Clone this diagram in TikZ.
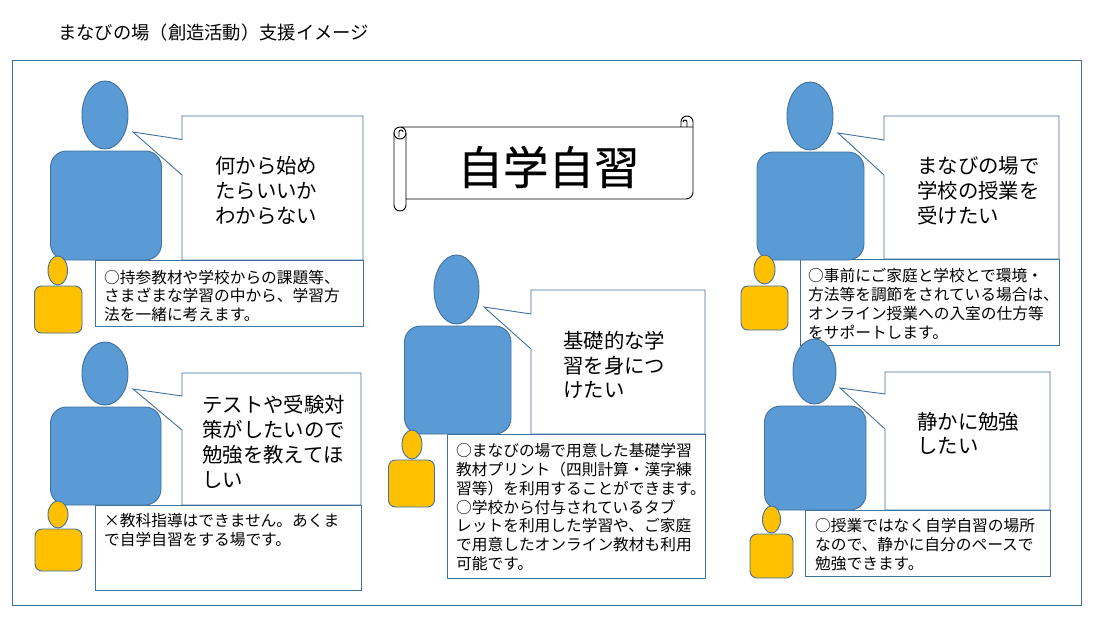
\documentclass[tikz,border=0pt]{standalone}
\usepackage{fontspec}
\setmainfont{Noto Sans CJK JP}
\usetikzlibrary{shapes.geometric}
\definecolor{edgeblue}{HTML}{41719C}
\definecolor{fillblue}{HTML}{5B9BD5}
\definecolor{fillgold}{HTML}{FFC000}
\tikzset{
  base/.style={inner sep=0pt,outer sep=0pt,line width=0.9pt,draw=edgeblue},
  headbig/.style={base,ellipse,fill=fillblue},
  bodybig/.style={base,rectangle,rounded corners=16pt,fill=fillblue},
  headsmall/.style={base,ellipse,fill=fillgold},
  bodysmall/.style={base,rectangle,rounded corners=7pt,fill=fillgold},
  framebox/.style={base,rectangle,fill=white},
  callout/.style={line width=0.9pt,draw=edgeblue,fill=white,line join=miter},
  big/.style={inner sep=0pt,anchor=west,align=left,font=\fontsize{20.4}{24.8}\selectfont},
  small/.style={inner sep=0pt,anchor=west,align=left,font=\fontsize{15.7}{18.8}\selectfont},
}
% style, name, x1, y1, x2, y2
\newcommand\boxat[6]{%
  \pgfmathsetmacro\bw{#5-#3}\pgfmathsetmacro\bh{#6-#4}%
  \pgfmathsetmacro\bx{(#3+#5)/2}\pgfmathsetmacro\by{(#4+#6)/2}%
  \node[#1,minimum width=\bw pt,minimum height=\bh pt] (#2) at (\bx,\by) {};}
% name, tipx, tipy, left, top, right, bottom, attach1y, attach2y
\newcommand\bubble[9]{%
  \coordinate (#1) at (#2,#3);
  \draw[callout] (#1) -- (#4,#8) -- (#4,#5) -- (#6,#5) -- (#6,#7) -- (#4,#7) -- (#4,#9) -- cycle;}
\begin{document}
\begin{tikzpicture}[x=1pt,y=-1pt]
\useasboundingbox (0,0) rectangle (1100,619);
\fill[white] (0,0) rectangle (1100,619);
\node[inner sep=0pt,anchor=west,font=\fontsize{18.3}{20}\selectfont] (title) at (58,33) {まなびの場（創造活動）支援イメージ};
\boxat{base,fill=white}{outer}{12.5}{60.5}{1081.5}{605.5}

% scroll (y axis points down here, so angles run clockwise on the page)
\draw[line width=0.9pt,fill=white,line join=round]
  (406,199) -- (686,199) arc[start angle=90,end angle=0,radius=7] -- (693,122)
  arc[start angle=0,end angle=-180,radius=6] -- (681,127) -- (400,127)
  arc[start angle=-90,end angle=-180,radius=6] -- (394,205)
  arc[start angle=180,end angle=0,radius=6] -- (406,133)
  arc[start angle=0,end angle=-90,radius=6];
\draw[line width=0.9pt] (394,133) arc[start angle=180,end angle=90,radius=6]
  arc[start angle=90,end angle=0,radius=6];
\draw[line width=0.9pt] (681,127) -- (693,127) (687,127) -- (687,122) arc[start angle=0,end angle=-180,radius=2];
\draw[line width=0.9pt] (399,137) -- (399,132) arc[start angle=180,end angle=360,radius=2];
\node[inner sep=0pt,font=\fontsize{45.5}{50}\selectfont\addfontfeature{FakeBold=0.4}] (scrolltext) at (548.5,167) {自学自習};

% person 1
\bubble{tipa}{133}{132}{182}{116}{363}{260}{139.5}{175}
\boxat{framebox}{boxa}{95.5}{260.5}{363}{326}
\boxat{headbig}{heada}{82}{81}{128}{149}
\boxat{bodybig}{bodya}{50.5}{151}{161.5}{260}
\boxat{headsmall}{hsa}{48}{256}{67.5}{285}
\boxat{bodysmall}{bsa}{34.5}{286}{82}{333}
\node[big] (ta) at (215,190.5) {何から始め\\たらいいか\\わからない};
\node[small] (sa) at (104,296) {○持参教材や学校からの課題等、\\さまざまな学習の中から、学習方\\法を一緒に考えます。};

% person 2
\bubble{tipb}{133}{389}{182}{373}{361}{505}{396}{430}
\boxat{framebox}{boxb}{95.5}{505}{361}{590}
\boxat{headbig}{headb}{82}{342}{128}{405}
\boxat{bodybig}{bodyb}{50.5}{407}{161}{505}
\boxat{headsmall}{hsb}{48}{501}{68}{528}
\boxat{bodysmall}{bsb}{35}{529}{82}{571}
\node[big] (tb) at (202,442) {テストや受験対\\策がしたいので\\勉強を教えてほ\\しい};
\node[small] (sb) at (104,530) {×教科指導はできません。あくま\\で自学自習をする場です。};

% person 3
\bubble{tipc}{484}{307}{531}{290}{705}{434}{314}{349}
\boxat{framebox}{boxc}{447.5}{434}{705}{578}
\boxat{headbig}{headc}{434}{255}{479}{324}
\boxat{bodybig}{bodyc}{404.5}{326}{511}{434}
\boxat{headsmall}{hsc}{402}{430}{422}{459}
\boxat{bodysmall}{bsc}{388.5}{460}{434.5}{507}
\node[big] (tc) at (563,365) {基礎的な学\\習を身につ\\けたい};
\node[small] (sc) at (456,507) {○まなびの場で用意した基礎学習\\教材プリント（四則計算・漢字練\\習等）を利用することができます。\\○学校から付与されているタブ\\レットを利用した学習や、ご家庭\\で用意したオンライン教材も利用\\可能です。};

% person 4
\bubble{tipd}{838}{133}{884}{116}{1059}{259}{140}{175}
\boxat{framebox}{boxd}{800}{259}{1059}{345}
\boxat{headbig}{headd}{787}{82}{833}{150}
\boxat{bodybig}{bodyd}{757}{152}{864}{260}
\boxat{headsmall}{hsd}{754}{255}{775}{284}
\boxat{bodysmall}{bsd}{741}{286}{788}{330}
\node[big] (td) at (917,191) {まなびの場で\\学校の授業を\\受けたい};
\node[small] (sd) at (808,304) {○事前にご家庭と学校とで環境・\\方法等を調節をされている場合は、\\オンライン授業への入室の仕方等\\をサポートします。};

% person 5
\bubble{tipe}{840}{388}{885}{372}{1050}{510}{394}{429}
\boxat{framebox}{boxe}{805.5}{510}{1050}{576}
\boxat{headbig}{heade}{793}{339}{836}{404}
\boxat{bodybig}{bodye}{764.5}{406}{866}{510}
\boxat{headsmall}{hse}{762.5}{506}{780.5}{533}
\boxat{bodysmall}{bse}{750}{534}{793}{578}
\node[big] (te) at (917,433.5) {静かに勉強\\したい};
\node[small] (se) at (815,544.5) {○授業ではなく自学自習の場所\\なので、静かに自分のペースで\\勉強できます。};
\end{tikzpicture}
\end{document}
